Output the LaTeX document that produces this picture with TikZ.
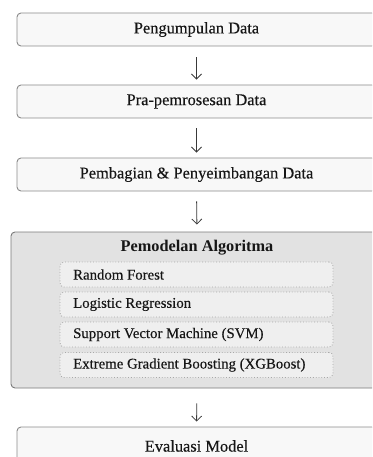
\documentclass[tikz,border=0pt]{standalone}
\usepackage{fontspec}
\setmainfont{Liberation Serif}[UprightFeatures={FakeBold=0.25}]
\usetikzlibrary{arrows.meta}
\definecolor{stageFill}{HTML}{F8F8F8}
\definecolor{stageLine}{HTML}{8A8A8A}
\definecolor{groupFill}{HTML}{E2E2E2}
\definecolor{groupLine}{HTML}{7A7A7A}
\definecolor{algoFill}{HTML}{EFEFEF}
\definecolor{algoLine}{HTML}{A8A8A8}
\definecolor{ink}{HTML}{161616}
\tikzset{
  stagebox/.style={draw=stageLine, fill=stageFill, line width=0.9pt, rounded corners=4pt,
    minimum width=359pt, minimum height=33pt, inner sep=0pt, text=ink,
    font=\fontsize{16.4}{19}\selectfont},
  groupbox/.style={draw=groupLine, fill=groupFill, line width=0.9pt, rounded corners=4pt,
    minimum width=372pt, minimum height=156pt, inner sep=0pt},
  grouptitle/.style={text=ink, inner sep=0pt, font=\fontsize{16.3}{19}\selectfont\bfseries},
  algobox/.style={draw=algoLine, fill=algoFill, line width=0.8pt, dotted, rounded corners=4pt,
    minimum width=273pt, minimum height=25pt, inner sep=0pt, text=ink,
    font=\fontsize{14.8}{17}\selectfont},
  algolabel/.style={text=ink, inner sep=0pt, anchor=west, font=\fontsize{14.8}{17}\selectfont},
  flow/.style={draw=ink!85, line width=0.8pt, -{Straight Barb[length=5pt,width=10pt,line width=0.8pt]}}
}
\begin{document}
\begin{tikzpicture}[x=1pt, y=-1pt]
\useasboundingbox (0,0) rectangle (372,457);
\clip (0,0) rectangle (372,457);

% pipeline stages
\node[stagebox] (collect) at (196.5,29.5) {Pengumpulan Data};
\node[stagebox] (prep)    at (196.5,101.5) {Pra-pemrosesan Data};
\node[stagebox] (split)   at (196.5,174.5) {Pembagian \& Penyeimbangan Data};

% modelling group with the four algorithms
\node[groupbox] (model) at (197,310) {};
\node[grouptitle] (modeltitle) at (197,248) {Pemodelan Algoritma};
\node[algobox] (rf)  at (196.5,274.5) {};
\node[algobox] (lr)  at (196.5,304.5) {};
\node[algobox] (svm) at (196.5,334.5) {};
\node[algobox] (xgb) at (196.5,365) {};
\node[algolabel] (rft)  at (73,274.5) {Random Forest};
\node[algolabel] (lrt)  at (73,304.5) {Logistic Regression};
\node[algolabel] (svmt) at (73,334.5) {Support Vector Machine (SVM)};
\node[algolabel] (xgbt) at (73,365) {Extreme Gradient Boosting (XGBoost)};

\node[stagebox, minimum height=40pt] (eval) at (196.5,447) {};
\node[text=ink, inner sep=0pt, font=\fontsize{16.4}{19}\selectfont] (evalt) at (196.5,446) {Evaluasi Model};

% arrows between stages
\draw[flow, shorten <=11pt, shorten >=5pt] (collect.south) -- (prep.north);
\draw[flow, shorten <=10pt, shorten >=5pt] (prep.south) -- (split.north);
\draw[flow, shorten <=10pt, shorten >=7pt] (split.south) -- (model.north);
\draw[flow, shorten <=15pt, shorten >=5pt] (model.south) -- (eval.north);
\end{tikzpicture}
\end{document}
